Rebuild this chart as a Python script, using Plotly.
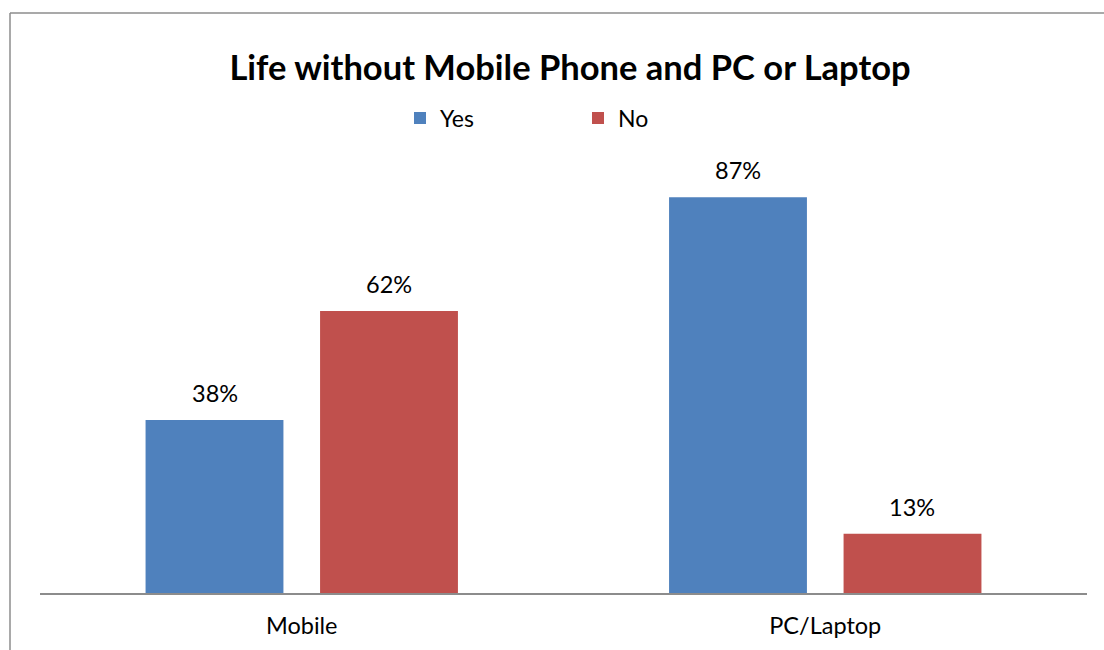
import plotly.graph_objects as go

categories = ["Mobile", "PC/Laptop"]
yes_values = [0.38, 0.87]
no_values = [0.62, 0.13]
series_names = ["Yes", "No"]
series_colors = ["#4F81BD", "#C0504D"]

FONT = "Lato"
W, H = 1104, 650
ML, MR, MT, MB = 40, 17, 138, 57

fig = go.Figure()
for name, vals, color in zip(series_names, [yes_values, no_values], series_colors):
    fig.add_trace(go.Bar(
        x=categories, y=vals, name=name,
        marker=dict(color=color, line=dict(width=0)),
    ))

# value labels above each bar
offsets = [-0.5, 0.5]
annotations = []
for off, vals in zip(offsets, [yes_values, no_values]):
    for i, v in enumerate(vals):
        annotations.append(dict(
            x=i + off * 0.3333, y=v, xref="x", yref="y",
            text=f"{round(v * 100)}%", showarrow=False,
            yanchor="bottom", yshift=11,
            font=dict(family=FONT, size=23.5, color="#000000"),
        ))

# chart-area border (left and top edges)
pw = W - ML - MR
ph = H - MT - MB
bx = (10 - ML) / pw
by = (H - MB - 13) / ph
shapes = [
    dict(type="line", xref="paper", yref="paper", x0=bx, x1=bx, y0=-0.3, y1=by,
         line=dict(color="#8C8C8C", width=1.5)),
    dict(type="line", xref="paper", yref="paper", x0=bx, x1=1.1, y0=by, y1=by,
         line=dict(color="#8C8C8C", width=1.5)),
]

fig.update_layout(
    width=W, height=H,
    margin=dict(l=ML, r=MR, t=MT, b=MB),
    paper_bgcolor="white", plot_bgcolor="white",
    barmode="group", bargap=0.3333, bargroupgap=0.21,
    title=dict(text="<b>Life without Mobile Phone and PC or Laptop</b>",
               x=570 / W, xanchor="center", y=1 - 68 / H, yanchor="middle",
               font=dict(family=FONT, size=34.5, color="#000000")),
    legend=dict(orientation="h", x=(400 - ML) / pw, xanchor="left",
                y=(H - MB - 118) / ph, yanchor="middle",
                font=dict(family=FONT, size=23, color="#000000"),
                itemwidth=30, tracegroupgap=0, traceorder="normal",
                entrywidthmode="pixels", entrywidth=133),
    xaxis=dict(showline=True, linecolor="#8C8C8C", linewidth=1.5,
               showgrid=False, ticks="", ticklabelstandoff=11,
               tickfont=dict(family=FONT, size=23.5, color="#000000")),
    yaxis=dict(range=[0, 1], visible=False, showgrid=False),
    annotations=annotations,
    shapes=shapes,
    showlegend=True,
)

fig.write_html("out.html")
